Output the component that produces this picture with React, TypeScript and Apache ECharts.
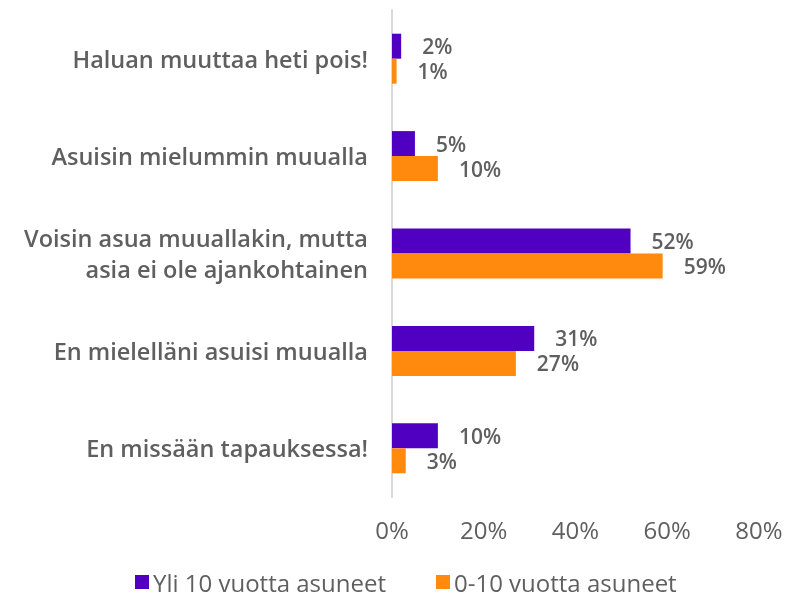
import React, { useEffect, useRef } from "react";
import * as echarts from "echarts";

const categories = [
  "Haluan muuttaa heti pois!",
  "Asuisin mielummin muualla",
  "Voisin asua muuallakin, mutta\nasia ei ole ajankohtainen",
  "En mielelläni asuisi muualla",
  "En missään tapauksessa!",
];
const seriesNames = ["Yli 10 vuotta asuneet", "0-10 vuotta asuneet"];
const over10 = [2, 5, 52, 31, 10];
const under10 = [1, 10, 59, 27, 3];
const xTicks = [0, 20, 40, 60, 80];

const TEXT = "#5F5F5F";
const FONT = "'Open Sans', 'Noto Sans', sans-serif";

export default function App() {
  const ref = useRef<HTMLDivElement>(null);
  useEffect(() => {
    if (!ref.current) return;
    const chart = echarts.init(ref.current, undefined, { renderer: "svg" });
    const label = {
      show: true,
      position: "right",
      distance: 21,
      formatter: "{c}%",
      color: TEXT,
      fontFamily: FONT,
      fontSize: 21,
      fontWeight: 600,
    };
    chart.setOption({
      animation: false,
      grid: { left: 392, right: 31, top: 10, bottom: 103, containLabel: false },
      legend: {
        top: 563,
        left: 130,
        itemWidth: 14,
        itemHeight: 14,
        itemGap: 50,
        icon: "rect",
        textStyle: {
          color: TEXT,
          fontFamily: FONT,
          fontSize: 24,
          lineHeight: 28,
          padding: [0, 0, 0, -1],
        },
        data: seriesNames,
      },
      xAxis: {
        type: "value",
        min: xTicks[0],
        max: xTicks[xTicks.length - 1],
        interval: 20,
        axisLine: { show: false },
        axisTick: { show: false },
        splitLine: { show: false },
        axisLabel: {
          formatter: "{value}%",
          color: TEXT,
          fontFamily: FONT,
          fontSize: 24,
          margin: 20,
        },
      },
      yAxis: {
        type: "category",
        inverse: true,
        data: categories,
        axisLine: { show: true, lineStyle: { color: "#D9D9D9", width: 2 } },
        axisTick: { show: false },
        axisLabel: {
          color: TEXT,
          fontFamily: FONT,
          fontSize: 23.5,
          fontWeight: 600,
          margin: 24,
          lineHeight: 31,
          align: "right",
        },
      },
      series: [
        {
          name: seriesNames[0],
          type: "bar",
          data: over10,
          barWidth: 25,
          barGap: "0%",
          itemStyle: { color: "#5000C0" },
          label,
        },
        {
          name: seriesNames[1],
          type: "bar",
          data: under10,
          barWidth: 25,
          barGap: "0%",
          itemStyle: { color: "#FF8A0D" },
          label,
        },
      ],
    });
    return () => chart.dispose();
  }, []);
  return (
    <div
      ref={ref}
      style={{ position: "fixed", left: 0, top: 0, width: 790, height: 600 }}
    />
  );
}
